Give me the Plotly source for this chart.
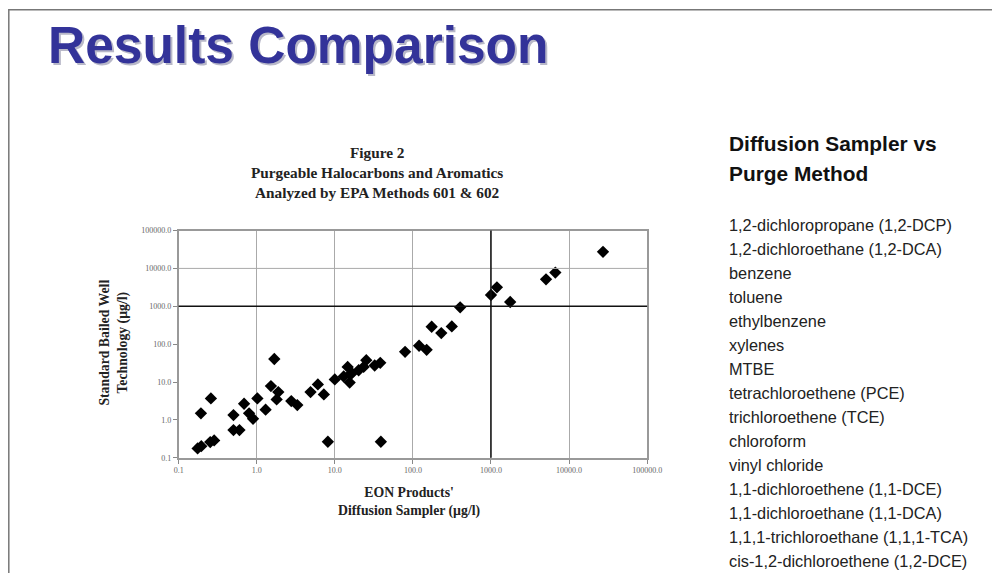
import plotly.graph_objects as go

W, H = 1000, 573

# ---- data ----
eon_diffusion = [0.175, 0.195, 0.193, 0.259, 0.254, 0.285, 0.504, 0.504, 0.601, 0.689,
                 0.798, 0.897, 1.02, 1.30, 1.52, 1.68, 1.89, 1.80, 2.77, 3.31,
                 4.89, 6.07, 7.24, 8.15, 10.0, 13.0, 14.6, 15.5, 15.8, 16.6,
                 20.2, 23.4, 25.3, 32.4, 38.2, 38.9, 79.4, 120, 150, 174,
                 231, 315, 403, 1000, 1191, 1762, 5070, 6670, 27200]
bailed_well = [0.177, 0.203, 1.49, 3.70, 0.26, 0.287, 1.34, 0.538, 0.538, 2.67,
               1.49, 1.07, 3.70, 1.86, 7.83, 40.5, 5.44, 3.48, 3.15, 2.47,
               5.44, 8.67, 4.72, 0.265, 11.7, 14.0, 25.1, 9.7, 16.1, 17.1,
               20.5, 25.1, 37.8, 27.3, 32.1, 0.265, 62.8, 90.6, 71.0, 288,
               196, 294, 937, 1986, 3170, 1297, 5160, 7760, 27350]

tick_vals = [0.1, 1, 10, 100, 1000, 10000, 100000]
tick_text = ["0.1", "1.0", "10.0", "100.0", "1000.0", "10000.0", "100000.0"]
y_grid_minor = [10000]
emphasis_line = 1000

compounds = ["1,2-dichloropropane (1,2-DCP)", "1,2-dichloroethane (1,2-DCA)", "benzene",
             "toluene", "ethylbenzene", "xylenes", "MTBE", "tetrachloroethene (PCE)",
             "trichloroethene (TCE)", "chloroform", "vinyl chloride",
             "1,1-dichloroethene (1,1-DCE)", "1,1-dichloroethane (1,1-DCA)",
             "1,1,1-trichloroethane (1,1,1-TCA)", "cis-1,2-dichloroethene (1,2-DCE)"]

SANS = "Liberation Sans, Arial, sans-serif"
SERIF = "Liberation Serif, Times New Roman, serif"

# compensation for how the page is photographed
OFF, SC = 12.2, 0.981

def px(x):
    return ((x - OFF) / SC) / W

def py(y):
    return 1 - ((y - OFF) / SC) / H

def fs(s):
    return s / SC

fig = go.Figure()
fig.add_trace(go.Scatter(
    x=eon_diffusion, y=bailed_well, mode="markers",
    marker=dict(symbol="diamond", size=fs(9.3), color="black"),
    hoverinfo="skip", showlegend=False))

axis_common = dict(type="log", range=[-1, 5], tickvals=tick_vals, ticktext=tick_text,
                   tickfont=dict(family=SERIF, size=8, color="#666"),
                   showline=True, linecolor="#999", linewidth=1.5, mirror=True,
                   ticks="outside", ticklen=4, tickcolor="#888", zeroline=False)

fig.update_xaxes(**axis_common, domain=[px(178), px(647)],
                 showgrid=True, gridcolor="#aaa", gridwidth=1)
fig.update_yaxes(**axis_common, domain=[py(456.5), py(230)], showgrid=False)

shapes = []
for v in y_grid_minor:
    shapes.append(dict(type="line", xref="x domain", yref="y", x0=0, x1=1, y0=v, y1=v,
                       line=dict(color="#aaa", width=1)))
shapes.append(dict(type="line", xref="x domain", yref="y", x0=0, x1=1,
                   y0=emphasis_line, y1=emphasis_line, line=dict(color="#111", width=1.5)))
shapes.append(dict(type="line", xref="x", yref="y domain", x0=emphasis_line, x1=emphasis_line,
                   y0=0, y1=1, line=dict(color="#111", width=1.5)))
# slide frame
shapes.append(dict(type="rect", xref="paper", yref="paper", x0=px(8), x1=px(996),
                   y0=py(610), y1=py(10), line=dict(color="#777", width=1.5),
                   fillcolor="rgba(0,0,0,0)", layer="below"))

def note(**kw):
    d = dict(xref="paper", yref="paper", showarrow=False)
    d.update(kw)
    return d

ann = []
# main title with shadow
ann.append(note(text="<b>Results Comparison</b>", x=px(47), y=py(47), xanchor="left",
                yanchor="middle", font=dict(family=SANS, size=fs(50.5), color="#b8b8c8")))
ann.append(note(text="<b>Results Comparison</b>", x=px(45), y=py(45), xanchor="left",
                yanchor="middle", font=dict(family=SANS, size=fs(50.5), color="#333399")))
# chart title
ann.append(note(text="<b>Figure 2<br>Purgeable Halocarbons and Aromatics<br>Analyzed by EPA Methods 601 &amp; 602</b>",
                x=px(377), y=py(172), xanchor="center", yanchor="middle",
                font=dict(family=SERIF, size=fs(15), color="#222"), align="center"))
# axis titles
ann.append(note(text="<b>Standard Bailed Well<br>Technology (µg/l)</b>", x=px(113), y=py(342),
                xanchor="center", yanchor="middle", textangle=-90,
                font=dict(family=SERIF, size=fs(13.5), color="#222"), align="center"))
ann.append(note(text="<b>EON Products'<br>Diffusion Sampler (µg/l)</b>", x=px(409), y=py(501),
                xanchor="center", yanchor="middle",
                font=dict(family=SERIF, size=fs(13.5), color="#222"), align="center"))
# right text block
ann.append(note(text="<b>Diffusion Sampler vs</b>", x=px(727), y=py(143),
                xanchor="left", yanchor="middle", font=dict(family=SANS, size=fs(20.5), color="#111")))
ann.append(note(text="<b>Purge Method</b>", x=px(727), y=py(173),
                xanchor="left", yanchor="middle", font=dict(family=SANS, size=fs(20.5), color="#111")))
first_y, step = 224, 23.93
for i, c in enumerate(compounds):
    ann.append(note(text=c, x=px(727), y=py(first_y + i * step), xanchor="left",
                    yanchor="middle", font=dict(family=SANS, size=fs(16), color="#222")))

fig.update_layout(width=W, height=H, margin=dict(l=0, r=0, t=0, b=0),
                  paper_bgcolor="white", plot_bgcolor="white",
                  shapes=shapes, annotations=ann, hovermode=False)

fig.write_html("out.html")
